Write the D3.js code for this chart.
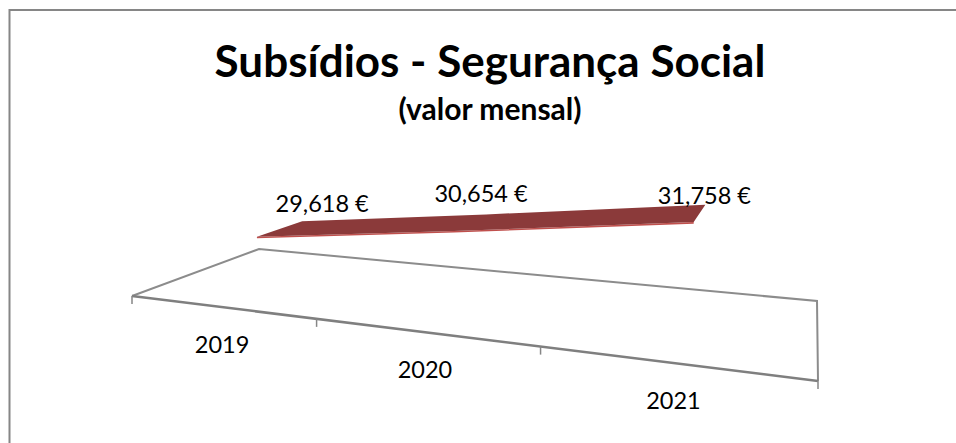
<!DOCTYPE html>
<html lang="pt">
<head>
<meta charset="utf-8">
<title>Subsídios - Segurança Social</title>
<script src="https://cdn.jsdelivr.net/npm/d3@7"></script>
<style>
  html, body { margin: 0; background: #fff; }
  svg { display: block; }
  text { font-family: Lato, "Open Sans", sans-serif; fill: #000; }
</style>
</head>
<body>
<svg id="chart" width="956" height="443"></svg>
<script>
var title = "Subsídios - Segurança Social";
var subtitle = "(valor mensal)";
var years = ["2019", "2020", "2021"];
var values = [29618, 30654, 31758];
var valueLabels = ["29,618 €", "30,654 €", "31,758 €"];

var svg = d3.select("#chart");

/* floor of the 3d plot: corners on screen, u runs along the years, v runs into the depth */
var floor = { frontLeft: [132, 296], frontRight: [818, 381], backRight: [817, 301], backLeft: [259, 249] };

function makeProjection(c) {
    var p0 = c.frontLeft, p1 = c.frontRight, p2 = c.backRight, p3 = c.backLeft;
    var dx1 = p1[0] - p2[0], dx2 = p3[0] - p2[0], sx = p0[0] - p1[0] + p2[0] - p3[0];
    var dy1 = p1[1] - p2[1], dy2 = p3[1] - p2[1], sy = p0[1] - p1[1] + p2[1] - p3[1];
    var den = dx1 * dy2 - dx2 * dy1;
    var g = (sx * dy2 - dx2 * sy) / den;
    var h = (dx1 * sy - sx * dy1) / den;
    var a = p1[0] - p0[0] + g * p1[0], b = p3[0] - p0[0] + h * p3[0];
    var d = p1[1] - p0[1] + g * p1[1], e = p3[1] - p0[1] + h * p3[1];
    /* lift is a height above the floor, it shrinks with the perspective like everything else */
    return function(u, v, lift) {
        var w = 1 + g * u + h * v;
        return [(a * u + b * v + p0[0]) / w, (d * u + e * v + p0[1] - (lift || 0)) / w];
    };
}
var project = makeProjection(floor);

var xBand = d3.scaleBand().domain(years).range([0, 1]);
var xPoint = d3.scalePoint().domain(years).range([0, 1]).padding(0.445);
/* value axis is hidden in the original, it does not start at zero */
var yScale = d3.scaleLinear().domain([27000, 32000]).range([-3.4, 102]);

var ribbonFront = 0.33, ribbonBack = 0.73;
var path = d3.line();

/* chart frame, runs off the picture on the right and the bottom */
svg.append("path")
    .attr("d", "M9.5,443V10H956")
    .attr("fill", "none")
    .attr("stroke", "#868686")
    .attr("stroke-width", 2);

/* title */
svg.append("text").attr("x", 490).attr("y", 77)
    .attr("text-anchor", "middle").attr("font-size", 44).attr("font-weight", 700)
    .text(title);
svg.append("text").attr("x", 490).attr("y", 120)
    .attr("text-anchor", "middle").attr("font-size", 30).attr("font-weight", 700)
    .text(subtitle);

/* floor */
svg.append("path")
    .attr("d", path([project(0, 0), project(0, 1), project(1, 1), project(1, 0)]))
    .attr("fill", "none").attr("stroke", "#8c8c8c").attr("stroke-width", 2);
svg.append("path")
    .attr("d", path([project(0, 0), project(1, 0)]))
    .attr("fill", "none").attr("stroke", "#7f7f7f").attr("stroke-width", 2.5);

/* tick marks on the band edges of the front edge */
var edges = years.map(function(d) { return xBand(d); }).concat([1]);
svg.selectAll(".tick").data(edges).enter().append("line")
    .attr("class", "tick")
    .attr("x1", function(d) { return project(d, 0)[0]; })
    .attr("y1", function(d) { return project(d, 0)[1]; })
    .attr("x2", function(d) { return project(d, 0)[0]; })
    .attr("y2", function(d) { return project(d, 0)[1] + 8; })
    .attr("stroke", "#868686").attr("stroke-width", 1.5);

/* year labels */
svg.selectAll(".year").data(years).enter().append("text")
    .attr("class", "year")
    .attr("x", function(d) { return project(xBand(d) + xBand.bandwidth() / 2, 0)[0] + 2; })
    .attr("y", function(d) { return project(xBand(d) + xBand.bandwidth() / 2, 0)[1] + 46; })
    .attr("text-anchor", "middle").attr("font-size", 23.5)
    .text(function(d) { return d; });

/* ribbon: the line of the 3d chart, with a thin lighter front face */
function edgePoints(depth, drop) {
    return years.map(function(d, i) {
        return project(xPoint(d), depth, yScale(values[i]) - (drop || 0));
    });
}
var front = edgePoints(ribbonFront, 0);
var back = edgePoints(ribbonBack, 0);
var under = edgePoints(ribbonFront, 1.5);

svg.append("path")
    .attr("d", path(front.concat(under.slice().reverse())) + "Z")
    .attr("fill", "#c0504d");
svg.append("path")
    .attr("d", path(front.concat(back.slice().reverse())) + "Z")
    .attr("fill", "#8b3a3a");

/* data labels sit above the back edge of the ribbon, excel nudged each one differently */
var labelNudge = [[20, -9], [-5, -12], [-1, -1]];
svg.selectAll(".value").data(valueLabels).enter().append("text")
    .attr("class", "value")
    .attr("x", function(d, i) { return back[i][0] + labelNudge[i][0]; })
    .attr("y", function(d, i) { return back[i][1] + labelNudge[i][1]; })
    .attr("text-anchor", "middle").attr("font-size", 23.5)
    .text(function(d) { return d; });
</script>
</body>
</html>
